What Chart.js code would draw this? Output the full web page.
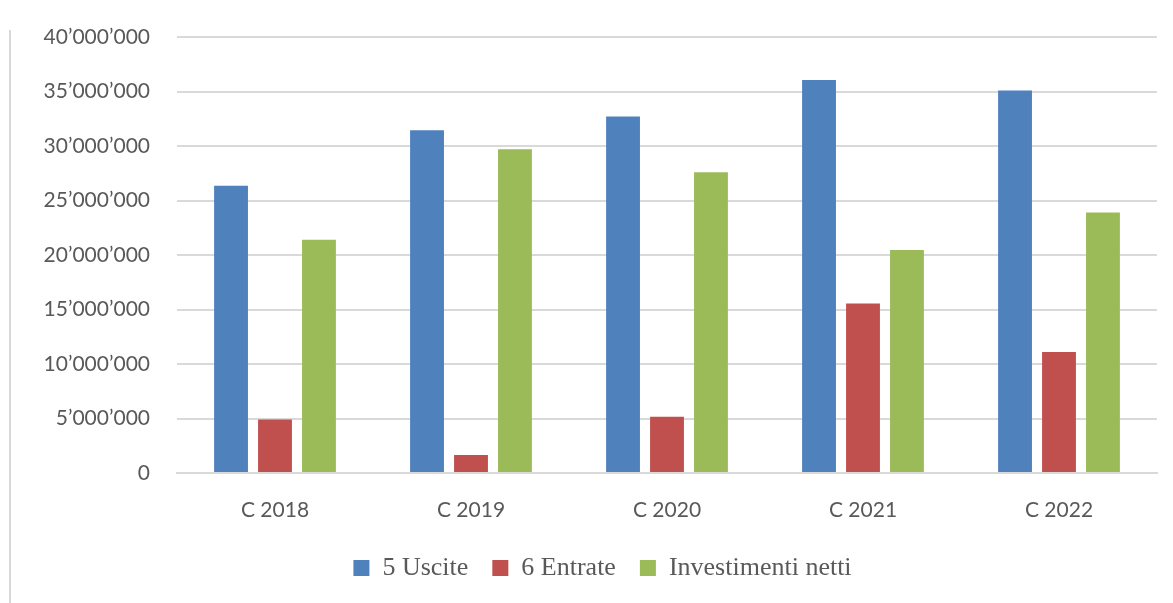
<!DOCTYPE html>
<html>
<head>
<meta charset="utf-8">
<script src="https://cdn.jsdelivr.net/npm/chart.js@4"></script>
<style>
  html, body { margin: 0; padding: 0; background: #fff; }
  #wrap { width: 1173px; height: 603px; position: relative; }
</style>
</head>
<body>
<div id="wrap"><canvas id="barChart"></canvas></div>
<script>
// data
const categories = ["C 2018", "C 2019", "C 2020", "C 2021", "C 2022"];
const uscite = [26350000, 31450000, 32700000, 36050000, 35100000];
const entrate = [4900000, 1650000, 5150000, 15550000, 11100000];
const investimenti = [21400000, 29700000, 27600000, 20450000, 23900000];
const seriesNames = ["5 Uscite", "6 Entrate", "Investimenti netti"];

const textColor = '#595959';
const gridColor = '#d9d9d9';

// thin frame line on the left side of the chart box
const frameLine = {
    id: 'frameLine',
    beforeDraw(chart) {
        const ctx = chart.ctx;
        ctx.save();
        ctx.strokeStyle = gridColor;
        ctx.lineWidth = 2;
        ctx.beginPath();
        ctx.moveTo(10, 30);
        ctx.lineTo(10, 603);
        ctx.stroke();
        ctx.restore();
    }
};

// legend in the original sits a bit right of the canvas centre
const legendShift = {
    id: 'legendShift',
    afterLayout(chart) {
        chart.legend.left += 24;
        chart.legend.right += 24;
    }
};

let barCtx = document.getElementById("barChart");
let barConfig = {
    type: 'bar',
    data: {
        labels: categories,
        datasets: [
            { label: seriesNames[0], data: uscite, backgroundColor: '#4F81BD' },
            { label: seriesNames[1], data: entrate, backgroundColor: '#C0504D' },
            { label: seriesNames[2], data: investimenti, backgroundColor: '#9BBB59' },
        ]
    },
    options: {
        responsive: true,
        maintainAspectRatio: false,
        animation: false,
        categoryPercentage: 0.673,
        barPercentage: 0.77,
        layout: { padding: { left: 0, right: 16, top: 37, bottom: 12 } },
        plugins: {
            tooltip: { enabled: false },
            legend: {
                position: 'bottom',
                labels: {
                    color: textColor,
                    font: { family: '"Liberation Serif", serif', size: 26 },
                    boxWidth: 16,
                    boxHeight: 16,
                    padding: 24,
                }
            }
        },
        scales: {
            x: {
                grid: { display: false, drawTicks: false },
                border: { color: gridColor, width: 2 },
                ticks: { color: textColor, font: { family: 'Lato', size: 21 }, padding: 25 },
                afterFit: s => { s.height = 58; s.paddingLeft = 0; s.paddingRight = 0; }
            },
            y: {
                min: 0,
                max: 40000000,
                grid: { color: gridColor, lineWidth: 2, drawTicks: false },
                border: { display: false },
                ticks: {
                    stepSize: 5000000,
                    color: textColor,
                    font: { family: 'Lato', size: 21 },
                    padding: 27,
                    callback: v => String(v).replace(/\B(?=(\d{3})+(?!\d))/g, '\u2019')
                },
                afterFit: s => { s.width = 177; s.paddingTop = 0; s.paddingBottom = 0; }
            }
        }
    },
    plugins: [frameLine, legendShift]
};
let barChart = new Chart(barCtx, barConfig);
</script>
</body>
</html>
